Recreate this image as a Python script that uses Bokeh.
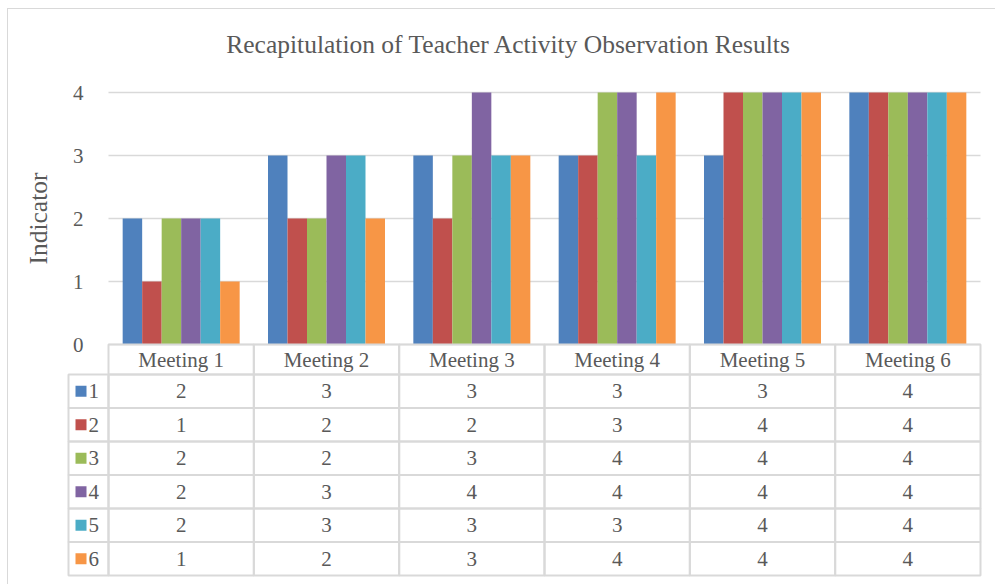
import math
from bokeh.plotting import figure
from bokeh.models import Range1d, FixedTicker
from bokeh.core.properties import value
from bokeh.embed import file_html
from bokeh.resources import INLINE

# ---- data ----
meetings = ["Meeting 1", "Meeting 2", "Meeting 3", "Meeting 4", "Meeting 5", "Meeting 6"]
series_names = ["1", "2", "3", "4", "5", "6"]
s1 = [2, 3, 3, 3, 3, 4]
s2 = [1, 2, 2, 3, 4, 4]
s3 = [2, 2, 3, 4, 4, 4]
s4 = [2, 3, 4, 4, 4, 4]
s5 = [2, 3, 3, 3, 4, 4]
s6 = [1, 2, 3, 4, 4, 4]
y_ticks = [0, 1, 2, 3, 4]
title_text = "Recapitulation of Teacher Activity Observation Results"
y_label = "Indicator"

series = [s1, s2, s3, s4, s5, s6]
colors = ["#4F81BD", "#C0504D", "#9BBB59", "#8064A2", "#4BACC6", "#F79646"]
FONT = "Liberation Serif"
TXT = "#595959"
GRID = "#D9D9D9"

PX_X = 145.33
PX_Y = 63.0
hdr = 30 / PX_Y
rh = 33.5 / PX_Y
lx = 40 / PX_X

p = figure(width=988, height=576,
           x_range=Range1d((20 - 108) / PX_X, 6 + 2 / PX_X),
           y_range=Range1d(-233 / PX_Y, (344 - 9) / PX_Y),
           output_backend="svg", toolbar_location=None,
           min_border_left=12, min_border_right=14, min_border_top=0, min_border_bottom=8)
p.margin = (8, 0, 0, 7)
p.styles = {"border-top": "1px solid #D9D9D9", "border-left": "1px solid #D9D9D9"}
p.outline_line_color = None
p.background_fill_color = "white"
p.border_fill_color = "white"
p.xaxis.visible = False
p.grid.visible = False

# chart title
p.text(x=[(508.5 - 108) / PX_X], y=[(344 - 44) / PX_Y], text=[title_text],
       text_font=value(FONT), text_font_size="25.5px", text_color=TXT,
       text_align="center", text_baseline="middle")

# gridlines
p.segment(x0=[0] * len(y_ticks), x1=[6] * len(y_ticks), y0=y_ticks, y1=y_ticks,
          line_color=GRID, line_width=1.5)

# bars
bw = 0.805 / 6
for k, s in enumerate(series):
    xs = [i + 0.5 + (k - 2.5) * bw for i in range(len(meetings))]
    p.vbar(x=xs, top=s, bottom=0, width=bw, fill_color=colors[k], line_color=None)

# y axis (labels drawn inside the chart area)
ax = p.yaxis[0]
ax.ticker = FixedTicker(ticks=y_ticks)
ax.axis_line_color = None
ax.major_tick_line_color = None
ax.minor_tick_line_color = None
ax.major_label_standoff = -69
ax.major_label_text_font = FONT
ax.major_label_text_font_size = "21px"
ax.major_label_text_color = TXT

p.text(x=[(38 - 108) / PX_X], y=[2], text=[y_label], angle=math.pi / 2,
       text_font=value(FONT), text_font_size="25.5px", text_color=TXT,
       text_align="center", text_baseline="middle")

# ---- data table ----
hy = -hdr / 2
p.rect(x=[i + 0.5 for i in range(6)], y=[hy] * 6, width=1, height=hdr,
       fill_color=None, line_color=GRID, line_width=2)
p.text(x=[i + 0.5 for i in range(6)], y=[hy] * 6, text=meetings,
       text_font=value(FONT), text_font_size="21px", text_color=TXT,
       text_align="center", text_baseline="middle")

ry = [-hdr - (k + 0.5) * rh for k in range(6)]
cx, cy, ct = [], [], []
for k, s in enumerate(series):
    for i, v in enumerate(s):
        cx.append(i + 0.5)
        cy.append(ry[k])
        ct.append(str(v))
p.rect(x=cx, y=cy, width=1, height=rh, fill_color=None, line_color=GRID, line_width=2)
p.text(x=cx, y=cy, text=ct, text_font=value(FONT), text_font_size="21px",
       text_color=TXT, text_align="center", text_baseline="middle")

p.rect(x=[-lx / 2] * 6, y=ry, width=lx, height=rh, fill_color=None,
       line_color=GRID, line_width=2)
p.scatter(x=[-lx + 12.5 / PX_X] * 6, y=ry, marker="square", size=11,
          fill_color=colors, line_color=None)
p.text(x=[-lx + 20 / PX_X] * 6, y=ry, text=series_names, text_font=value(FONT),
       text_font_size="21px", text_color=TXT, text_align="left", text_baseline="middle")

open("out.html", "w").write(file_html(p, INLINE))
